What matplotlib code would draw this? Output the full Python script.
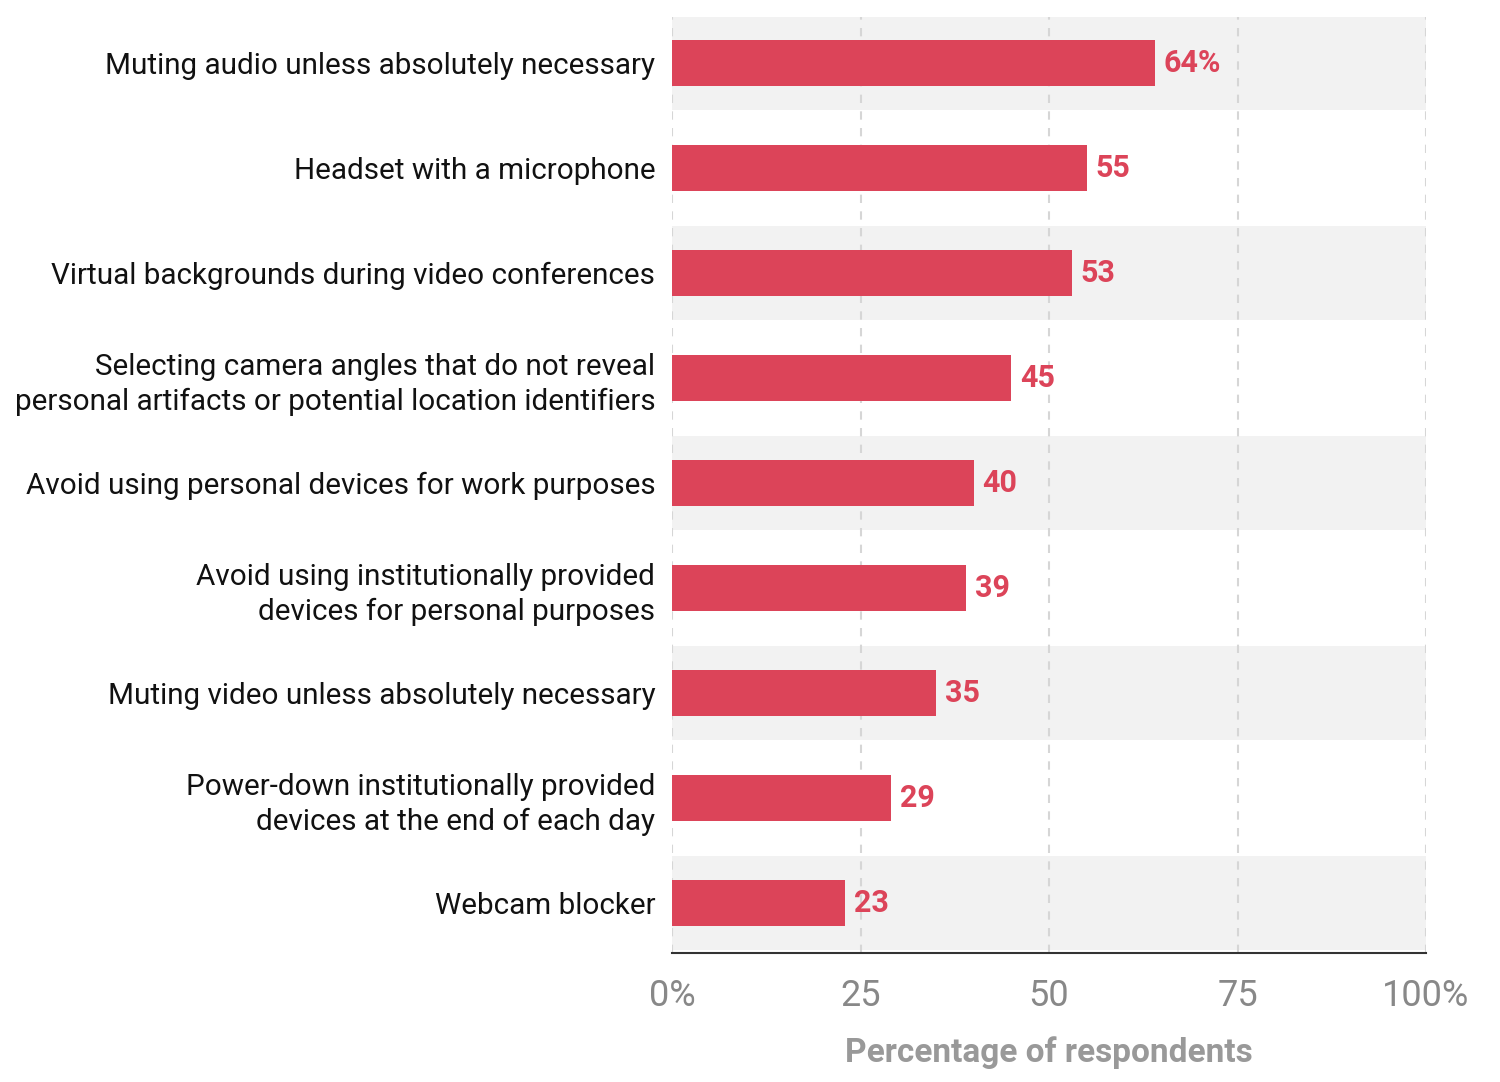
import numpy as np
import matplotlib.pyplot as plt

plt.rcParams['font.family'] = ['Roboto', 'DejaVu Sans']

categories = [
    'Muting audio unless absolutely necessary',
    'Headset with a microphone',
    'Virtual backgrounds during video conferences',
    'Selecting camera angles that do not reveal\npersonal artifacts or potential location identifiers',
    'Avoid using personal devices for work purposes',
    'Avoid using institutionally provided\ndevices for personal purposes',
    'Muting video unless absolutely necessary',
    'Power-down institutionally provided\ndevices at the end of each day',
    'Webcam blocker',
]
values = [64, 55, 53, 45, 40, 39, 35, 29, 23]
value_labels = ['64%', '55', '53', '45', '40', '39', '35', '29', '23']
xticks = [0, 25, 50, 75, 100]
xtick_labels = ['0%', '25', '50', '75', '100%']

bar_color = '#dc4459'

fig = plt.figure(figsize=(15, 10.82), dpi=100)
ax = fig.add_axes([0.448, 0.1192, 0.5027, 0.8651])

y = np.arange(len(categories))

# gray bands behind every other row
for i in y:
    if i % 2 == 0:
        ax.axhspan(i - 0.45, i + 0.45, color='#f2f2f2', zorder=0, lw=0)

ax.barh(y, values, height=0.44, color=bar_color, zorder=3)

for yi, v, lab in zip(y, values, value_labels):
    ax.text(v + 1.2, yi, lab, va='center', ha='left', fontsize=22,
            fontweight='bold', color=bar_color, zorder=4)

ax.set_xlim(0, 100)
ax.set_ylim(8.476, -0.44)
ax.set_yticks(y)
ax.set_yticklabels(categories, fontsize=21.3, color='#111111', linespacing=1.3)
ax.set_xticks(xticks)
ax.set_xticklabels(xtick_labels, fontsize=26, color='#888888')

for xt in xticks:
    ax.axvline(xt, color='#d6d6d6', ls=(0, (4, 4)), lw=1.5, zorder=1)

for s in ['top', 'right', 'left']:
    ax.spines[s].set_visible(False)
ax.spines['bottom'].set_color('#333333')
ax.spines['bottom'].set_linewidth(1.5)
ax.tick_params(axis='y', length=0, pad=12)
ax.tick_params(axis='x', length=0, pad=18)

ax.set_xlabel('Percentage of respondents', fontsize=24, fontweight='bold',
              color='#999999', labelpad=16)

plt.savefig('out.png', dpi=100)
